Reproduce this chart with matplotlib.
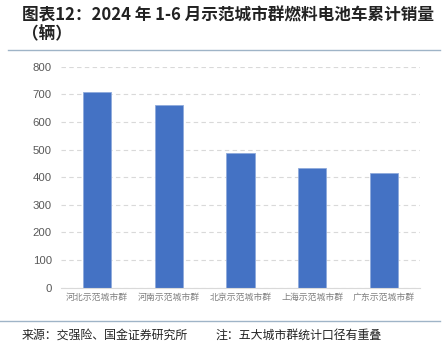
import matplotlib
matplotlib.use("Agg")
import matplotlib.pyplot as plt
from matplotlib.lines import Line2D

plt.rcParams['font.family'] = ['Noto Sans CJK SC', 'DejaVu Sans']

categories = ["河北示范城市群", "河南示范城市群", "北京示范城市群", "上海示范城市群", "广东示范城市群"]
values = [707, 661, 489, 434, 416]
yticks = [0, 100, 200, 300, 400, 500, 600, 700, 800]

W, H = 447, 352
fig = plt.figure(figsize=(W/100, H/100), dpi=100)
ax = fig.add_axes([61/W, 1-287.5/H, (420-61)/W, (287.5-66.7)/H])

ax.bar(range(len(categories)), values, width=0.39, color="#4472C4",
       edgecolor="#8faadc", linewidth=0.6, zorder=3)
ax.set_xlim(-0.5, len(categories)-0.5)
ax.set_ylim(0, 800)
ax.set_yticks(yticks)
ax.set_yticklabels([str(v) for v in yticks], fontsize=8.2, color="#595959",
                   family=['Liberation Sans', 'DejaVu Sans'])
ax.set_xticks(range(len(categories)))
ax.set_xticklabels(categories, fontsize=6.4, color="#7f7f7f")
ax.tick_params(axis='both', length=0)
ax.tick_params(axis='y', pad=6.5)
ax.tick_params(axis='x', pad=4)
ax.grid(axis='y', color="#d9d9d9", linestyle=(0, (4, 3)), linewidth=0.8, zorder=0)
for s in ['top', 'right', 'left']:
    ax.spines[s].set_visible(False)
ax.spines['bottom'].set_color("#d9d9d9")
ax.spines['bottom'].set_linewidth(0.8)
ax.spines['bottom'].set_zorder(4)

fig.text(22/W, 1-15/H, "图表12：2024 年 1-6 月示范城市群燃料电池车累计销量",
         fontsize=12, fontweight='bold', color="#222222", va='center', ha='left')
fig.text(22/W, 1-34/H, "（辆）", fontsize=12, fontweight='bold', color="#222222",
         va='center', ha='left')

fig.add_artist(Line2D([8/W, 440/W], [1-50/H, 1-50/H], color="#9fb4c7", linewidth=1.0))
fig.add_artist(Line2D([0/W, 440/W], [1-321/H, 1-321/H], color="#9fb4c7", linewidth=1.0))

fig.text(22/W, 1-335/H, "来源：交强险、国金证券研究所", fontsize=8.6, color="#222222",
         va='center', ha='left')
fig.text(215/W, 1-335/H, "注：五大城市群统计口径有重叠", fontsize=8.6, color="#222222",
         va='center', ha='left')

fig.savefig("out.png", dpi=100)
